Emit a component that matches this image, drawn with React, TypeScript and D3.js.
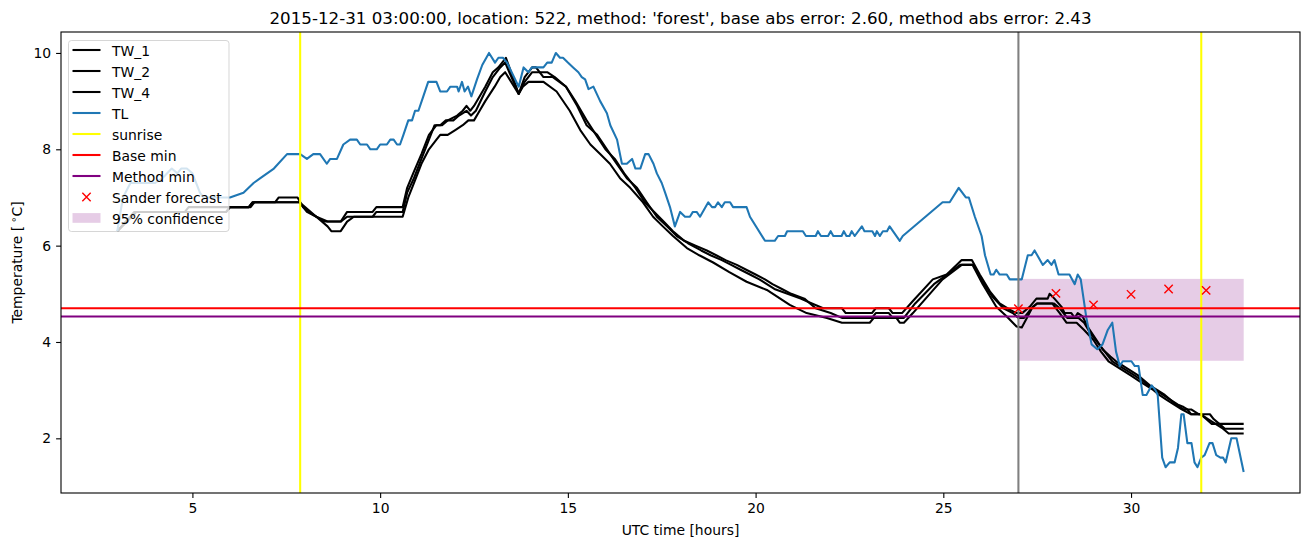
import { useEffect, useRef } from "react";
import * as d3 from "d3";

// chart data (hours since 00 UTC, deg C)
const TITLE =
  "2015-12-31 03:00:00, location: 522, method: 'forest', base abs error: 2.60, method abs error: 2.43";

const TW_1: [number, number][] = [
  [3.0, 6.3], [3.5, 6.7], [4.8, 6.7], [4.9, 6.8], [6.5, 6.8], [6.6, 6.9], [7.2, 6.9], [7.3, 7.0],
  [7.8, 7.0], [7.95, 6.8], [8.1, 6.7], [8.3, 6.6], [8.5, 6.5], [8.95, 6.5], [9.12, 6.7], [9.8, 6.7],
  [9.9, 6.8], [10.6, 6.8], [10.72, 7.2], [10.88, 7.5], [11.1, 7.9], [11.3, 8.3], [11.5, 8.5],
  [11.65, 8.5], [11.8, 8.6], [12.05, 8.7], [12.2, 8.8], [12.3, 8.9], [12.4, 8.8], [12.5, 8.9],
  [12.8, 9.3], [13.0, 9.6], [13.15, 9.7], [13.35, 9.9], [13.69, 9.15], [13.85, 9.5], [14.05, 9.7],
  [14.15, 9.7], [14.35, 9.5], [14.6, 9.5], [14.95, 9.3], [15.25, 8.9], [15.5, 8.5], [15.78, 8.3],
  [16.04, 8.0], [16.3, 7.7], [16.57, 7.4], [16.84, 7.2], [17.1, 6.9], [17.37, 6.6], [17.64, 6.4],
  [17.9, 6.2], [18.2, 6.05], [18.55, 5.9], [18.8, 5.8], [19.1, 5.7], [19.35, 5.6], [19.6, 5.5],
  [19.85, 5.4], [20.1, 5.3], [20.3, 5.2], [20.5, 5.1], [20.85, 5.0], [21.2, 4.9], [21.5, 4.8],
  [21.8, 4.7], [22.3, 4.7], [22.4, 4.6], [23.1, 4.6], [23.2, 4.7], [23.55, 4.7], [23.65, 4.6],
  [23.9, 4.6], [24.19, 4.85], [24.72, 5.3], [25.09, 5.4], [25.49, 5.7], [25.76, 5.7], [25.97, 5.4],
  [26.24, 5.05], [26.5, 4.8], [26.77, 4.67], [26.95, 4.6], [27.1, 4.6], [27.3, 4.73], [27.48, 4.9],
  [27.78, 4.9], [27.83, 5.0], [27.96, 4.9], [28.15, 4.73], [28.23, 4.6], [28.41, 4.6], [28.5, 4.5],
  [28.58, 4.6], [28.71, 4.53], [28.84, 4.32], [29.08, 4.04], [29.24, 3.85], [29.45, 3.7],
  [29.6, 3.6], [29.8, 3.5], [30.0, 3.4], [30.2, 3.3], [30.35, 3.2], [30.5, 3.1], [30.7, 3.0],
  [30.9, 2.9], [31.05, 2.8], [31.25, 2.7], [31.4, 2.65], [31.5, 2.6], [31.6, 2.5], [31.85, 2.5],
  [32.0, 2.4], [32.15, 2.3], [33.0, 2.3],
];

const TW_2: [number, number][] = [
  [3.0, 6.3], [3.45, 6.7], [5.9, 6.7], [6.0, 6.8], [6.55, 6.8], [6.65, 6.9], [7.85, 6.9],
  [8.05, 6.7], [8.3, 6.6], [8.6, 6.5], [8.95, 6.5], [9.12, 6.6], [9.8, 6.6], [9.9, 6.7],
  [10.6, 6.7], [10.72, 7.1], [10.9, 7.4], [11.1, 7.8], [11.3, 8.2], [11.45, 8.5], [11.6, 8.5],
  [11.75, 8.6], [11.95, 8.6], [12.1, 8.7], [12.3, 8.8], [12.42, 8.7], [12.55, 8.8], [12.8, 9.2],
  [13.0, 9.5], [13.2, 9.7], [13.33, 9.8], [13.69, 9.15], [13.85, 9.4], [14.05, 9.6], [14.45, 9.6],
  [14.65, 9.5], [14.95, 9.3], [15.2, 9.0], [15.5, 8.6], [15.75, 8.3], [16.0, 8.0], [16.25, 7.8],
  [16.5, 7.5], [16.8, 7.2], [17.05, 6.9], [17.3, 6.7], [17.55, 6.5], [17.8, 6.3], [18.1, 6.1],
  [18.4, 6.0], [18.7, 5.9], [18.95, 5.8], [19.2, 5.7], [19.5, 5.6], [19.75, 5.5], [20.0, 5.4],
  [20.25, 5.3], [20.45, 5.2], [20.7, 5.1], [20.95, 5.0], [21.3, 4.9], [21.45, 4.8], [21.6, 4.7],
  [22.0, 4.6], [22.3, 4.5], [23.1, 4.5], [23.2, 4.6], [23.55, 4.6], [23.65, 4.5], [23.95, 4.5],
  [24.25, 4.8], [24.75, 5.2], [25.1, 5.4], [25.45, 5.6], [25.8, 5.6], [26.0, 5.3], [26.3, 4.95],
  [26.6, 4.7], [26.85, 4.6], [27.0, 4.5], [27.15, 4.5], [27.35, 4.7], [27.5, 4.8], [27.95, 4.8],
  [28.1, 4.7], [28.3, 4.5], [28.6, 4.5], [28.75, 4.4], [28.9, 4.2], [29.15, 3.95], [29.3, 3.8],
  [29.5, 3.6], [29.7, 3.5], [29.9, 3.4], [30.1, 3.3], [30.3, 3.2], [30.45, 3.1], [30.65, 3.0],
  [30.85, 2.9], [31.05, 2.8], [31.2, 2.7], [31.4, 2.6], [31.6, 2.6], [31.8, 2.5], [32.1, 2.5],
  [32.2, 2.4], [32.35, 2.3], [32.5, 2.2], [33.0, 2.2],
];

const TW_4: [number, number][] = [
  [3.0, 6.3], [3.5, 6.7], [5.9, 6.7], [6.0, 6.8], [6.5, 6.8], [6.6, 6.9], [7.85, 6.9], [8.0, 6.8],
  [8.3, 6.6], [8.6, 6.4], [8.7, 6.3], [8.95, 6.3], [9.12, 6.5], [9.3, 6.6], [10.6, 6.6],
  [10.75, 7.0], [10.9, 7.3], [11.1, 7.7], [11.3, 8.0], [11.5, 8.2], [11.6, 8.3], [11.8, 8.3],
  [12.0, 8.4], [12.2, 8.5], [12.35, 8.6], [12.5, 8.6], [12.65, 8.8], [12.8, 9.0], [13.05, 9.3],
  [13.2, 9.5], [13.33, 9.6], [13.69, 9.15], [13.8, 9.3], [13.95, 9.4], [14.35, 9.4], [14.7, 9.2],
  [15.05, 8.8], [15.33, 8.4], [15.6, 8.1], [15.86, 7.9], [16.12, 7.7], [16.39, 7.4], [16.66, 7.2],
  [17.0, 6.9], [17.27, 6.6], [17.53, 6.4], [17.8, 6.2], [18.17, 5.95], [18.5, 5.8], [18.87, 5.65],
  [19.3, 5.45], [19.76, 5.25], [20.3, 5.08], [20.91, 4.77], [21.36, 4.6], [21.9, 4.5], [22.3, 4.4],
  [23.04, 4.4], [23.15, 4.5], [23.75, 4.5], [23.84, 4.4], [23.95, 4.4], [24.19, 4.6], [24.98, 5.3],
  [25.49, 5.6], [25.78, 5.6], [26.05, 5.2], [26.41, 4.73], [26.69, 4.53], [26.95, 4.32],
  [27.09, 4.3], [27.2, 4.46], [27.38, 4.73], [27.5, 4.8], [27.9, 4.8], [28.1, 4.6], [28.28, 4.4],
  [28.55, 4.4], [28.75, 4.25], [29.0, 4.04], [29.2, 3.8], [29.4, 3.6], [29.6, 3.5], [29.8, 3.4],
  [30.0, 3.3], [30.2, 3.2], [30.4, 3.1], [30.6, 3.0], [30.75, 2.9], [30.95, 2.8], [31.15, 2.7],
  [31.35, 2.6], [31.6, 2.5], [31.85, 2.5], [32.05, 2.4], [32.25, 2.3], [32.45, 2.2], [32.6, 2.1],
  [33.0, 2.1],
];

const TL: [number, number][] = [
  [3.0, 6.3], [3.15, 7.0], [3.35, 7.3], [4.0, 7.3], [4.2, 7.4], [4.45, 7.6], [4.6, 7.5], [4.7, 7.6],
  [4.85, 7.6], [5.0, 7.5], [5.2, 7.1], [5.3, 7.0], [6.0, 7.0], [6.36, 7.1], [6.63, 7.3], [6.81, 7.4],
  [7.17, 7.6], [7.52, 7.9], [7.87, 7.9], [8.05, 7.8], [8.22, 7.9], [8.4, 7.9], [8.58, 7.7],
  [8.67, 7.8], [8.85, 7.8], [9.02, 8.1], [9.2, 8.2], [9.38, 8.2], [9.47, 8.1], [9.65, 8.1],
  [9.74, 8.0], [9.91, 8.0], [10.0, 8.1], [10.18, 8.1], [10.27, 8.2], [10.36, 8.2], [10.45, 8.1],
  [10.53, 8.1], [10.62, 8.3], [10.75, 8.6], [10.85, 8.6], [10.93, 8.8], [11.02, 8.8], [11.15, 9.1],
  [11.28, 9.4], [11.5, 9.4], [11.6, 9.2], [11.78, 9.2], [11.87, 9.3], [12.05, 9.3], [12.09, 9.2],
  [12.18, 9.4], [12.25, 9.2], [12.34, 9.3], [12.43, 9.1], [12.58, 9.45], [12.72, 9.75], [12.9, 10.0],
  [13.06, 9.8], [13.15, 9.9], [13.27, 9.9], [13.38, 9.8], [13.69, 9.3], [13.82, 9.7], [13.95, 9.6],
  [14.04, 9.7], [14.35, 9.7], [14.45, 9.8], [14.57, 9.8], [14.68, 10.0], [14.79, 9.9], [14.87, 9.9],
  [15.0, 9.8], [15.14, 9.7], [15.28, 9.6], [15.37, 9.5], [15.46, 9.45], [15.55, 9.25], [15.68, 9.3],
  [15.86, 9.0], [16.04, 8.75], [16.13, 8.5], [16.31, 8.2], [16.44, 7.7], [16.57, 7.7], [16.71, 7.8],
  [16.8, 7.6], [16.93, 7.6], [17.06, 7.9], [17.15, 7.9], [17.28, 7.7], [17.37, 7.5], [17.5, 7.3],
  [17.59, 7.1], [17.72, 6.8], [17.85, 6.4], [17.99, 6.7], [18.12, 6.6], [18.25, 6.6], [18.33, 6.7],
  [18.43, 6.7], [18.52, 6.6], [18.74, 6.9], [18.84, 6.8], [18.92, 6.8], [19.0, 6.9], [19.1, 6.8],
  [19.18, 6.9], [19.32, 6.9], [19.4, 6.8], [19.76, 6.8], [19.85, 6.6], [20.25, 6.1], [20.51, 6.1],
  [20.6, 6.2], [20.78, 6.2], [20.84, 6.3], [21.26, 6.3], [21.34, 6.2], [21.6, 6.2], [21.66, 6.3],
  [21.74, 6.2], [21.93, 6.2], [22.0, 6.3], [22.07, 6.2], [22.29, 6.2], [22.35, 6.3], [22.42, 6.2],
  [22.5, 6.2], [22.56, 6.3], [22.64, 6.2], [22.83, 6.4], [22.9, 6.3], [23.11, 6.3], [23.18, 6.2],
  [23.23, 6.3], [23.31, 6.2], [23.39, 6.3], [23.5, 6.3], [23.57, 6.4], [23.84, 6.1], [23.92, 6.2],
  [24.98, 6.9], [25.17, 6.9], [25.41, 7.2], [25.6, 7.0], [25.68, 7.0], [25.84, 6.6], [26.02, 6.2],
  [26.11, 5.8], [26.26, 5.4], [26.34, 5.4], [26.41, 5.5], [26.5, 5.4], [26.69, 5.4], [26.77, 5.3],
  [27.09, 5.3], [27.25, 5.8], [27.35, 5.8], [27.43, 5.9], [27.65, 5.6], [27.78, 5.7], [27.88, 5.6],
  [27.96, 5.7], [28.07, 5.4], [28.36, 5.4], [28.5, 5.2], [28.58, 5.4], [28.66, 5.3], [28.81, 4.5],
  [28.95, 3.95], [29.1, 3.85], [29.24, 3.95], [29.38, 4.25], [29.5, 4.4], [29.6, 3.8], [29.7, 3.5],
  [29.78, 3.6], [30.01, 3.6], [30.1, 3.5], [30.2, 3.5], [30.31, 2.9], [30.41, 2.9], [30.55, 3.1],
  [30.65, 3.0], [30.71, 2.9], [30.83, 1.6], [30.92, 1.4], [31.03, 1.5], [31.16, 1.5], [31.25, 1.8],
  [31.34, 2.5], [31.4, 2.5], [31.5, 1.9], [31.61, 1.9], [31.69, 1.5], [31.77, 1.4], [31.87, 1.6],
  [31.96, 1.65], [32.09, 1.9], [32.17, 1.9], [32.27, 1.65], [32.38, 1.6], [32.45, 1.6], [32.52, 1.5],
  [32.67, 2.0], [32.81, 2.0], [33.0, 1.3],
];

const SUNRISE_HOURS = [7.87, 31.87];
const FORECAST_HOUR = 27;
const BASE_MIN = 4.7;
const METHOD_MIN = 4.53;
const SANDER_HOURS = [27, 28, 29, 30, 31, 32];
const SANDER_TEMPS = [4.69, 5.01, 4.77, 4.99, 5.1, 5.07];
const CONF_HOURS = [27, 33];
const CONF_TEMPS = [3.61, 5.31];
const X_TICKS = [5, 10, 15, 20, 25, 30];
const Y_TICKS = [2, 4, 6, 8, 10];

const WIDTH = 1310;
const HEIGHT = 547;
const margin = { top: 32, right: 10, bottom: 54, left: 61 };
const FONT = "'DejaVu Sans', Verdana, sans-serif";
const FS = 13.9; // 10pt at 100 dpi
const LW = 2.08; // 1.5pt

const padExtent = (vals: number[]): [number, number] => {
  const [lo, hi] = d3.extent(vals) as [number, number];
  const p = (hi - lo) * 0.05; // matplotlib default margins
  return [lo - p, hi + p];
};

export default function App() {
  const ref = useRef<SVGSVGElement>(null);

  useEffect(() => {
    const svg = d3.select(ref.current);
    svg.selectAll("*").remove();

    const series = [TW_1, TW_2, TW_4];
    const allX = [...series.flat(), ...TL].map((d) => d[0]).concat(SANDER_HOURS, CONF_HOURS, SUNRISE_HOURS);
    const allY = [...series.flat(), ...TL].map((d) => d[1]).concat(SANDER_TEMPS, CONF_TEMPS);

    const x = d3.scaleLinear().domain(padExtent(allX)).range([margin.left, WIDTH - margin.right]);
    const y = d3.scaleLinear().domain(padExtent(allY)).range([HEIGHT - margin.bottom, margin.top]);

    const [x0, x1] = x.range();
    const [y1, y0] = y.range();

    svg.append("rect").attr("width", WIDTH).attr("height", HEIGHT).attr("fill", "#fff");

    svg
      .append("clipPath")
      .attr("id", "plot-clip")
      .append("rect")
      .attr("x", x0)
      .attr("y", y0)
      .attr("width", x1 - x0)
      .attr("height", y1 - y0);

    const plot = svg.append("g").attr("clip-path", "url(#plot-clip)");

    // 95% confidence band
    plot
      .append("rect")
      .attr("x", x(CONF_HOURS[0]))
      .attr("y", y(CONF_TEMPS[1]))
      .attr("width", x(CONF_HOURS[1]) - x(CONF_HOURS[0]))
      .attr("height", y(CONF_TEMPS[0]) - y(CONF_TEMPS[1]))
      .attr("fill", "purple")
      .attr("fill-opacity", 0.2);

    const line = d3
      .line<[number, number]>()
      .x((d) => x(d[0]))
      .y((d) => y(d[1]));

    const drawLine = (data: [number, number][], color: string) =>
      plot
        .append("path")
        .attr("d", line(data))
        .attr("fill", "none")
        .attr("stroke", color)
        .attr("stroke-width", LW)
        .attr("stroke-linejoin", "round");

    series.forEach((s) => drawLine(s, "#000"));
    drawLine(TL, "#1f77b4");

    // sunrise & forecast time
    plot
      .selectAll("line.sunrise")
      .data(SUNRISE_HOURS)
      .join("line")
      .attr("x1", (d) => x(d))
      .attr("x2", (d) => x(d))
      .attr("y1", y0)
      .attr("y2", y1)
      .attr("stroke", "#ffff00")
      .attr("stroke-width", LW);

    plot
      .append("line")
      .attr("x1", x(FORECAST_HOUR))
      .attr("x2", x(FORECAST_HOUR))
      .attr("y1", y0)
      .attr("y2", y1)
      .attr("stroke", "#808080")
      .attr("stroke-width", LW);

    // base / method minimum
    [
      [BASE_MIN, "red"],
      [METHOD_MIN, "purple"],
    ].forEach(([v, c]) =>
      plot
        .append("line")
        .attr("x1", x0)
        .attr("x2", x1)
        .attr("y1", y(v as number))
        .attr("y2", y(v as number))
        .attr("stroke", c as string)
        .attr("stroke-width", LW)
    );

    const cross = (cx: number, cy: number, r = 4.17) =>
      `M${cx - r},${cy - r}L${cx + r},${cy + r}M${cx - r},${cy + r}L${cx + r},${cy - r}`;

    plot
      .selectAll("path.sander")
      .data(SANDER_HOURS)
      .join("path")
      .attr("class", "sander")
      .attr("d", (d, i) => cross(x(d), y(SANDER_TEMPS[i])))
      .attr("stroke", "red")
      .attr("stroke-width", 1.39)
      .attr("fill", "none");

    // axes
    const styleAxis = (g: d3.Selection<SVGGElement, unknown, null, undefined>) => {
      g.select(".domain").remove();
      g.selectAll(".tick line").attr("stroke", "#000").attr("stroke-width", 1.1);
      g.selectAll(".tick text").attr("fill", "#000").style("font-family", FONT).style("font-size", `${FS}px`);
    };

    svg
      .append("g")
      .attr("transform", `translate(0,${y1})`)
      .call(d3.axisBottom(x).tickValues(X_TICKS).tickSize(4.9).tickPadding(4.9).tickFormat(d3.format("d")))
      .call(styleAxis);

    svg
      .append("g")
      .attr("transform", `translate(${x0},0)`)
      .call(d3.axisLeft(y).tickValues(Y_TICKS).tickSize(4.9).tickPadding(4.9).tickFormat(d3.format("d")))
      .call(styleAxis);

    svg
      .append("rect")
      .attr("x", x0)
      .attr("y", y0)
      .attr("width", x1 - x0)
      .attr("height", y1 - y0)
      .attr("fill", "none")
      .attr("stroke", "#000")
      .attr("stroke-width", 1.1);

    const text = svg.append("g").style("font-family", FONT).attr("fill", "#000");

    text
      .append("text")
      .attr("x", (x0 + x1) / 2)
      .attr("y", 24)
      .attr("text-anchor", "middle")
      .style("font-size", "16.7px")
      .text(TITLE);

    text
      .append("text")
      .attr("x", (x0 + x1) / 2)
      .attr("y", 535)
      .attr("text-anchor", "middle")
      .style("font-size", `${FS}px`)
      .text("UTC time [hours]");

    const yl = text
      .append("text")
      .attr("transform", `translate(22,${(y0 + y1) / 2}) rotate(-90)`)
      .attr("text-anchor", "middle")
      .style("font-size", `${FS}px`);
    yl.append("tspan").text("Temperature [");
    yl.append("tspan").attr("dx", 3).attr("dy", -5).style("font-size", "10px").text("\u2218");
    yl.append("tspan").attr("dy", 5).text("C]");

    // legend
    const leg = svg.append("g").attr("transform", "translate(68.5,40.5)");
    leg
      .append("rect")
      .attr("width", 160.5)
      .attr("height", 191)
      .attr("rx", 3)
      .attr("fill", "#fff")
      .attr("fill-opacity", 0.8)
      .attr("stroke", "#ccc")
      .attr("stroke-opacity", 0.8);

    const items: { label: string; kind: "line" | "cross" | "patch"; color: string }[] = [
      { label: "TW_1", kind: "line", color: "#000" },
      { label: "TW_2", kind: "line", color: "#000" },
      { label: "TW_4", kind: "line", color: "#000" },
      { label: "TL", kind: "line", color: "#1f77b4" },
      { label: "sunrise", kind: "line", color: "#ffff00" },
      { label: "Base min", kind: "line", color: "red" },
      { label: "Method min", kind: "line", color: "purple" },
      { label: "Sander forecast", kind: "cross", color: "red" },
      { label: "95% confidence", kind: "patch", color: "purple" },
    ];

    const row = leg
      .selectAll("g.item")
      .data(items)
      .join("g")
      .attr("transform", (_, i) => `translate(0,${9.5 + i * 21})`);

    row.each(function (d) {
      const g = d3.select(this);
      if (d.kind === "line") {
        g.append("line").attr("x1", 4).attr("x2", 32).attr("stroke", d.color).attr("stroke-width", LW);
      } else if (d.kind === "cross") {
        g.append("path").attr("d", cross(18, 0)).attr("stroke", d.color).attr("stroke-width", 1.39).attr("fill", "none");
      } else {
        g.append("rect")
          .attr("x", 4)
          .attr("y", -4.9)
          .attr("width", 28)
          .attr("height", 9.7)
          .attr("fill", d.color)
          .attr("fill-opacity", 0.2);
      }
      g.append("text")
        .attr("x", 43.5)
        .attr("y", 6)
        .style("font-family", FONT)
        .style("font-size", `${FS}px`)
        .text(d.label);
    });
  }, []);

  return (
    <svg
      ref={ref}
      width={WIDTH}
      height={HEIGHT}
      style={{ position: "absolute", left: 0, top: 0, display: "block" }}
    />
  );
}
